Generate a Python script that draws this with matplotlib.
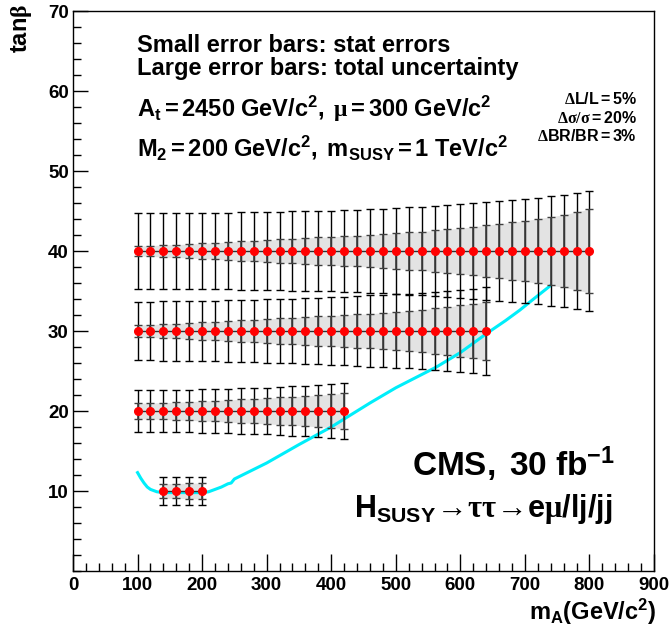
import matplotlib
matplotlib.use('Agg')
import matplotlib.pyplot as plt
import numpy as np

plt.rcParams['font.family'] = ['Liberation Sans', 'DejaVu Sans']
plt.rcParams['font.weight'] = 'bold'
plt.rcParams['mathtext.fontset'] = 'custom'
plt.rcParams['mathtext.rm'] = 'Liberation Serif'
plt.rcParams['mathtext.it'] = 'Liberation Serif:italic'
plt.rcParams['mathtext.bf'] = 'Liberation Sans:bold'
plt.rcParams['mathtext.sf'] = 'Liberation Sans'

# tan(beta) = 40 scan
mA_40 = [100, 120, 140, 160, 180, 200, 220, 240, 260, 280, 300, 320, 340, 360, 380, 400, 420, 440,
         460, 480, 500, 520, 540, 560, 580, 600, 620, 640, 660, 680, 700, 720, 740, 760, 780, 800]
stat_40 = [0.62, 0.68, 0.75, 0.80, 0.87, 0.95, 1.03, 1.10, 1.20, 1.30, 1.38, 1.45, 1.55, 1.63, 1.70, 1.78, 1.85, 1.92,
           2.00, 2.08, 2.20, 2.33, 2.42, 2.58, 2.71, 2.83, 3.04, 3.21, 3.42, 3.58, 3.79, 4.04, 4.29, 4.54, 4.88, 5.25]
tot_40 = [4.70, 4.70, 4.70, 4.72, 4.73, 4.75, 4.77, 4.80, 4.82, 4.85, 4.88, 4.90, 4.95, 4.98, 5.02, 5.06, 5.10, 5.15,
          5.20, 5.25, 5.33, 5.46, 5.54, 5.63, 5.75, 5.88, 5.96, 6.08, 6.21, 6.33, 6.50, 6.67, 6.88, 7.04, 7.29, 7.54]

# tan(beta) = 30 scan
mA_30 = [100, 120, 140, 160, 180, 200, 220, 240, 260, 280, 300, 320, 340, 360, 380, 400, 420, 440,
         460, 480, 500, 520, 540, 560, 580, 600, 620, 640]
stat_30 = [0.75, 0.80, 0.87, 0.93, 1.00, 1.08, 1.15, 1.23, 1.32, 1.40, 1.50, 1.58, 1.67, 1.75, 1.83, 1.92, 2.00, 2.08,
           2.17, 2.27, 2.38, 2.50, 2.65, 2.83, 3.00, 3.21, 3.42, 3.63]
tot_30 = [3.67, 3.68, 3.70, 3.72, 3.74, 3.77, 3.80, 3.84, 3.88, 3.92, 3.96, 4.00, 4.05, 4.10, 4.15, 4.20, 4.27, 4.35,
          4.45, 4.52, 4.60, 4.68, 4.75, 4.83, 4.96, 5.13, 5.29, 5.50]

# tan(beta) = 20 scan
mA_20 = [100, 120, 140, 160, 180, 200, 220, 240, 260, 280, 300, 320, 340, 360, 380, 400, 420]
stat_20 = [0.96, 1.00, 1.05, 1.10, 1.17, 1.23, 1.30, 1.38, 1.45, 1.53, 1.60, 1.70, 1.78, 1.87, 1.97, 2.08, 2.20]
tot_20 = [2.60, 2.62, 2.63, 2.65, 2.68, 2.70, 2.73, 2.77, 2.82, 2.87, 2.93, 3.00, 3.07, 3.15, 3.24, 3.34, 3.46]

# tan(beta) = 10 scan
mA_10 = [140, 160, 180, 200]
stat_10 = [0.90, 0.93, 0.96, 1.00]
tot_10 = [1.70, 1.72, 1.74, 1.76]

# cyan contour
curve_mA = [100, 105, 110, 115, 120, 130, 140, 160, 180, 200, 210, 220, 230, 240, 245, 250, 265,
            300, 350, 400, 460, 500, 563, 600, 641, 670, 692, 715, 740]
curve_tb = [12.3, 11.6, 11.0, 10.5, 10.2, 9.9, 9.8, 9.8, 9.8, 9.8, 9.9, 10.2, 10.5, 10.9, 11.0, 11.5, 12.1,
            13.5, 15.8, 18.0, 21.0, 22.9, 25.5, 27.3, 29.7, 31.3, 32.6, 34.1, 35.7]

scans = [(40, mA_40, stat_40, tot_40), (30, mA_30, stat_30, tot_30),
         (20, mA_20, stat_20, tot_20), (10, mA_10, stat_10, tot_10)]

W, H = 669, 627
fig = plt.figure(figsize=(W / 100, H / 100), dpi=100)
ax = fig.add_axes([73 / W, 1 - 571 / H, 581 / W, 560 / H])

for tb, x, st, tot in scans:
    x = np.array(x)
    y = np.full(len(x), tb, dtype=float)
    st = np.array(st)
    ax.fill_between(x, y - st, y + st, color='#e3e3e3', lw=0, zorder=1)
    ax.errorbar(x, y, yerr=tot, fmt='none', ecolor='black', elinewidth=1.0, capsize=3, capthick=1.0, zorder=3)
    ax.errorbar(x, y, yerr=st, fmt='none', ecolor='#404040', elinewidth=1.2, capsize=3, capthick=1.0, zorder=3)
    ax.plot(x, y, color='#303030', lw=1.0, zorder=4)
    ax.plot(x, y, 'o', color='#ff0000', ms=5.5, mec='#ff0000', zorder=5)

ax.plot(curve_mA, curve_tb, color='#00eefa', lw=2.2, zorder=2)

ax.set_xlim(0, 900)
ax.set_ylim(0, 70)
ax.set_xticks(range(0, 901, 100))
ax.set_xticks(range(0, 901, 20), minor=True)
ax.set_yticks(range(10, 71, 10))
ax.set_yticks(range(0, 71, 2), minor=True)
ax.tick_params(which='both', direction='in', top=False, right=False, labelsize=13.5, width=1.0)
ax.tick_params(axis='x', which='major', length=12, pad=4)
ax.tick_params(axis='x', which='minor', length=6)
ax.tick_params(axis='y', which='major', length=11, pad=3)
ax.tick_params(axis='y', which='minor', length=5.5)
for lab in ax.get_xticklabels() + ax.get_yticklabels():
    lab.set_fontweight('bold')
for s in ax.spines.values():
    s.set_linewidth(1.0)

def fx(px):
    return px / W

def fy(py):
    return 1 - py / H

fig.text(fx(137), fy(52), 'Small error bars: stat errors', fontsize=17, fontweight='bold', va='baseline')
fig.text(fx(137), fy(75), 'Large error bars: total uncertainty', fontsize=17, fontweight='bold', va='baseline')
fig.text(fx(137), fy(117), r'$\mathbf{A_t = 2450\ GeV/c^2,\ }\mathrm{\mu}\mathbf{ = 300\ GeV/c^2}$',
         fontsize=17, va='baseline')
fig.text(fx(137), fy(156), r'$\mathbf{M_2 = 200\ GeV/c^2,\ m_{SUSY} = 1\ TeV/c^2}$',
         fontsize=17, va='baseline')
fig.text(fx(637), fy(104), r'$\mathrm{\Delta}\mathbf{L/L = 5\%}$', fontsize=11.5, ha='right', va='baseline')
fig.text(fx(637), fy(123), r'$\mathrm{\Delta\sigma/\sigma}\mathbf{ = 20\%}$', fontsize=11.5, ha='right', va='baseline')
fig.text(fx(637), fy(141), r'$\mathrm{\Delta}\mathbf{BR/BR = 3\%}$', fontsize=11.5, ha='right', va='baseline')
fig.text(fx(513), fy(476), r'$\mathbf{CMS,\ 30\ fb^{-1}}$', fontsize=24, ha='center', va='baseline')
fig.text(fx(483), fy(517),
         r'$\mathbf{H_{SUSY}}\mathrm{\!\rightarrow\!\tau\tau\!\rightarrow\!}\mathbf{e}\mathrm{\mu}\mathbf{/lj/jj}$',
         fontsize=22, ha='center', va='baseline')
fig.text(fx(22), fy(4), r'$\mathbf{tan}\mathrm{\beta}$', fontsize=17, rotation=90, ha='center', va='top')
fig.text(fx(656), fy(627), r'$\mathbf{m_A(GeV/c^2)}$', fontsize=17, ha='right', va='bottom')

fig.savefig('out.png', dpi=100, facecolor='white')
